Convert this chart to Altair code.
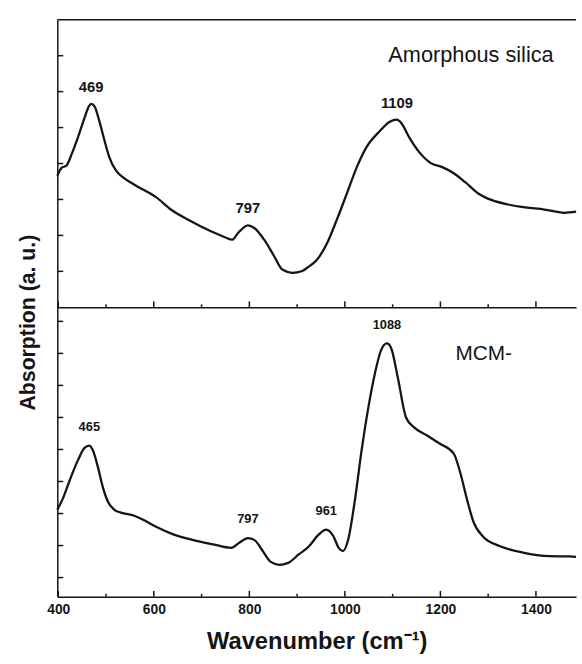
import altair as alt
import pandas as pd

# FT-IR absorption spectra (arbitrary units) against wavenumber in cm^-1
silica_wn = [398, 407, 417, 428, 441, 455, 464, 469, 476, 486, 497, 507, 521, 535, 562, 604, 638, 673,
             714, 749, 764, 776, 797, 811, 831, 852, 869, 890, 911, 921, 942, 963, 983, 1004, 1025,
             1045, 1073, 1094, 1109, 1118, 1135, 1156, 1180, 1204, 1228, 1252, 1280, 1308, 1342,
             1377, 1418, 1459, 1484]
silica_abs = [3.66, 3.88, 3.94, 4.26, 4.72, 5.27, 5.59, 5.66, 5.59, 5.18, 4.63, 4.17, 3.80, 3.62,
              3.39, 3.07, 2.70, 2.43, 2.15, 1.95, 1.88, 2.06, 2.28, 2.20, 1.88, 1.42, 1.05, 0.96,
              1.01, 1.10, 1.33, 1.79, 2.43, 3.16, 3.90, 4.45, 4.90, 5.16, 5.22, 5.13, 4.72, 4.31,
              4.01, 3.90, 3.73, 3.48, 3.16, 2.98, 2.86, 2.78, 2.72, 2.63, 2.66]

mcm_wn = [398, 410, 424, 441, 455, 465, 472, 483, 493, 504, 517, 531, 559, 580, 607, 642, 683, 724,
          762, 779, 797, 811, 828, 845, 863, 880, 904, 925, 945, 961, 976, 987, 996, 1007, 1021,
          1035, 1049, 1063, 1076, 1088, 1097, 1111, 1128, 1145, 1173, 1200, 1228, 1242, 1256,
          1269, 1290, 1325, 1373, 1428, 1469, 1484]
mcm_abs = [3.12, 3.48, 4.04, 4.66, 5.05, 5.12, 4.99, 4.45, 3.84, 3.37, 3.12, 3.03, 2.93, 2.79,
           2.57, 2.34, 2.17, 2.04, 1.93, 2.09, 2.23, 2.17, 1.83, 1.49, 1.40, 1.45, 1.73, 1.98,
           2.34, 2.50, 2.29, 1.93, 1.83, 2.19, 3.42, 4.97, 6.30, 7.38, 8.11, 8.31, 8.16, 7.23,
           6.00, 5.69, 5.43, 5.17, 4.87, 4.25, 3.42, 2.75, 2.27, 1.98, 1.78, 1.67, 1.66, 1.65]

silica_peaks = [469, 797, 1109]
mcm_peaks = [465, 797, 961, 1088]

x_labels = [400, 600, 800, 1000, 1200, 1400]
x_major = [400, 600, 800, 1000, 1200, 1400]
x_minor = [500, 700, 900, 1100, 1300]
silica_yticks = [1, 2, 3, 4, 5, 6, 7]
mcm_yticks = [1, 2, 3, 4, 5, 6, 7, 8, 9]

INK = "#151515"
FONT = "Liberation Sans"
W = 525
TOP_H = 291
BOT_H = 293

x_scale = alt.Scale(domain=[398, 1484], nice=False, zero=False)


def peak_table(wn, ab, peaks):
    lookup = dict(zip(wn, ab))
    return pd.DataFrame({"wn": peaks, "a": [lookup[p] for p in peaks],
                         "label": [str(p) for p in peaks]})


def panel(wn, ab, peaks, y_scale, yticks, height, name, name_x, name_y, name_size,
          label_size, label_dy, x_axis, y_axis, top_border):
    spec = pd.DataFrame({"wn": wn, "a": ab})
    xe = alt.X("wn:Q", scale=x_scale, axis=x_axis)
    ye = alt.Y("a:Q", scale=y_scale, axis=y_axis)

    line = alt.Chart(spec).mark_line(
        color=INK, strokeWidth=2.3, interpolate="monotone"
    ).encode(x=xe, y=ye)

    major = alt.Chart(pd.DataFrame({"wn": x_major})).mark_rule(
        color=INK, strokeWidth=1.5
    ).encode(x=xe, y=alt.value(height), y2=alt.value(height - 6))

    minor = alt.Chart(pd.DataFrame({"wn": x_minor})).mark_rule(
        color=INK, strokeWidth=1.5
    ).encode(x=xe, y=alt.value(height), y2=alt.value(height - 3))

    yt = alt.Chart(pd.DataFrame({"a": yticks})).mark_rule(
        color=INK, strokeWidth=1.5
    ).encode(y=ye, x=alt.value(0), x2=alt.value(6))

    labels = alt.Chart(peak_table(wn, ab, peaks)).mark_text(
        font=FONT, fontSize=label_size, fontWeight="bold", color=INK,
        dy=label_dy, baseline="middle", align="center"
    ).encode(x=xe, y=ye, text="label:N")

    title = alt.Chart(pd.DataFrame({"t": [name]})).mark_text(
        font=FONT, fontSize=name_size, color=INK, align="left", baseline="middle"
    ).encode(x=alt.value(name_x), y=alt.value(name_y), text="t:N")

    layers = [line, major, minor, yt, labels, title]
    if top_border:
        border = alt.Chart(pd.DataFrame({"t": [0]})).mark_rule(
            color=INK, strokeWidth=1.5
        ).encode(x=alt.value(0), x2=alt.value(W), y=alt.value(0))
        layers.append(border)

    return alt.layer(*layers).properties(width=W, height=height)


top_x_axis = alt.Axis(labels=False, ticks=False, title=None, grid=False,
                      domainColor=INK, domainWidth=1.5)
top_y_axis = alt.Axis(labels=False, ticks=False, title=None, grid=False,
                      domainColor=INK, domainWidth=1.5)

bot_x_axis = alt.Axis(values=x_labels, ticks=False, grid=False, format="d",
                      domainColor=INK, domainWidth=1.5,
                      labelFont=FONT, labelFontSize=14, labelFontWeight="bold",
                      labelColor=INK, labelPadding=6, labelOverlap=False,
                      labelFlush=False,
                      title="Wavenumber (cm\u207b\u00b9)", titleFont=FONT,
                      titleFontSize=24, titleFontWeight="bold", titleColor=INK,
                      titlePadding=13)
bot_y_axis = alt.Axis(labels=False, ticks=False, grid=False,
                      domainColor=INK, domainWidth=1.5,
                      title="Absorption (a. u.)", titleFont=FONT, titleFontSize=21.5,
                      titleFontWeight="bold", titleColor=INK, titleAngle=270,
                      titleAlign="center", titleBaseline="middle",
                      titleX=-29, titleY=15)

silica_panel = panel(silica_wn, silica_abs, silica_peaks,
                     alt.Scale(domain=[0, 8], nice=False, zero=False),
                     silica_yticks, TOP_H, "Amorphous silica", 335, 36, 22,
                     15, -17, top_x_axis, top_y_axis, True)

mcm_panel = panel(mcm_wn, mcm_abs, mcm_peaks,
                  alt.Scale(domain=[0.4, 9.44], nice=False, zero=False),
                  mcm_yticks, BOT_H, "MCM-", 403, 47, 21,
                  13, -19, bot_x_axis, bot_y_axis, False)

chart = alt.vconcat(silica_panel, mcm_panel, spacing=0, bounds="flush").properties(
    padding={"left": 17, "top": 14, "right": 0, "bottom": 5},
    background="white",
).configure_view(stroke="transparent")

chart.save("out.html", embed_options={"renderer": "svg", "actions": False})
